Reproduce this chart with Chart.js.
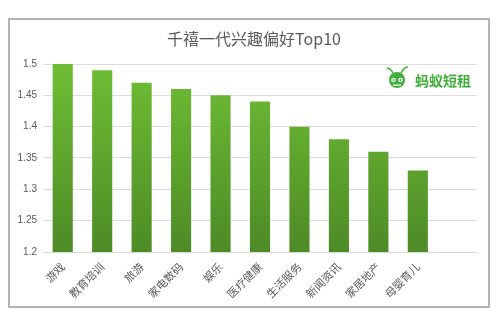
<!DOCTYPE html>
<html>
<head>
<meta charset="utf-8">
<script src="https://cdn.jsdelivr.net/npm/chart.js@4"></script>
<style>
  html, body { margin: 0; padding: 0; background: #fff; }
  #wrap { width: 500px; height: 326px; }
</style>
</head>
<body>
<div id="wrap"><canvas id="myChart" width="500" height="326"></canvas></div>
<script>
// categories (last one is the empty slot Excel left on the right)
let xLabels = ["游戏", "教育培训", "旅游", "家电数码", "娱乐", "医疗健康", "生活服务", "新闻资讯", "家居地产", "母婴育儿", ""];
let yValues = [1.5, 1.49, 1.47, 1.46, 1.45, 1.44, 1.40, 1.38, 1.36, 1.33, null];
let yTicks = [1.2, 1.25, 1.3, 1.35, 1.4, 1.45, 1.5];
let titleText = "千禧一代兴趣偏好Top10";
let logoText = "蚂蚁短租";

const cjk = "'Noto Sans CJK SC', 'Noto Sans', sans-serif";

// frame, title + logo
const decor = {
  id: "decor",
  beforeDraw(chart) {
    const c = chart.ctx;
    c.save();
    c.fillStyle = "#fff";
    c.fillRect(0, 0, chart.width, chart.height);
    c.strokeStyle = "#b4b4b4";
    c.lineWidth = 2;
    c.strokeRect(9, 19, 480, 288);
    c.restore();
  },
  afterDraw(chart) {
    const c = chart.ctx;
    c.save();
    c.fillStyle = "#595959";
    c.font = "16px " + cjk;
    c.textAlign = "center";
    c.textBaseline = "middle";
    c.fillText(titleText, 254, 39);

    let g = "#3fae3a";
    // ant head
    c.fillStyle = g;
    c.beginPath();
    c.arc(397, 80, 8, 0, Math.PI * 2);
    c.fill();
    c.strokeStyle = g;
    c.lineWidth = 1.5;
    c.beginPath();
    c.moveTo(393, 73); c.quadraticCurveTo(390, 68, 387, 68);
    c.moveTo(401, 73); c.quadraticCurveTo(404, 67, 408, 67);
    c.stroke();
    c.fillStyle = "#fff";
    c.beginPath(); c.arc(393.5, 80, 2.3, 0, Math.PI * 2); c.fill();
    c.beginPath(); c.arc(400.5, 80, 2.3, 0, Math.PI * 2); c.fill();
    c.fillStyle = g;
    c.beginPath(); c.arc(393.5, 80, 1, 0, Math.PI * 2); c.fill();
    c.beginPath(); c.arc(400.5, 80, 1, 0, Math.PI * 2); c.fill();
    c.fillStyle = "#fff";
    c.fillRect(393, 84.5, 8, 1.2);
    // text
    c.fillStyle = g;
    c.font = "bold 14px " + cjk;
    c.textAlign = "left";
    c.fillText(logoText, 415, 81);
    c.restore();
  }
};

new Chart("myChart", {
  type: "bar",
  data: {
    labels: xLabels,
    datasets: [{
      data: yValues,
      backgroundColor: function(context) {
        const area = context.chart.chartArea;
        if (!area) return "#5fa52f";
        const grad = context.chart.ctx.createLinearGradient(0, area.top, 0, area.bottom);
        grad.addColorStop(0, "#6fbe35");
        grad.addColorStop(1, "#4d8b26");
        return grad;
      },
      barPercentage: 0.51,
      categoryPercentage: 1
    }]
  },
  options: {
    responsive: false,
    animation: false,
    layout: { padding: { left: 0, right: 23, top: 64, bottom: 0 } },
    plugins: {
      legend: { display: false },
      tooltip: { enabled: false },
      title: { display: false }
    },
    scales: {
      x: {
        grid: { display: false, drawTicks: false },
        border: { display: true, color: "#d9d9d9" },
        ticks: {
          color: "#595959",
          font: { family: cjk, size: 11 },
          minRotation: 45,
          maxRotation: 45,
          autoSkip: false,
          padding: 8
        },
        afterFit(scale) { scale.height = 74; }
      },
      y: {
        min: 1.2,
        max: 1.5,
        afterBuildTicks(scale) { scale.ticks = yTicks.map(v => ({ value: v })); },
        grid: { color: "#dcdcdc", drawTicks: false },
        border: { display: false },
        ticks: {
          color: "#595959",
          font: { family: "'Liberation Sans', sans-serif", size: 10 },
          padding: 6,
          callback: v => String(v)
        },
        afterFit(scale) { scale.width = 43; }
      }
    }
  },
  plugins: [decor]
});
</script>
</body>
</html>
